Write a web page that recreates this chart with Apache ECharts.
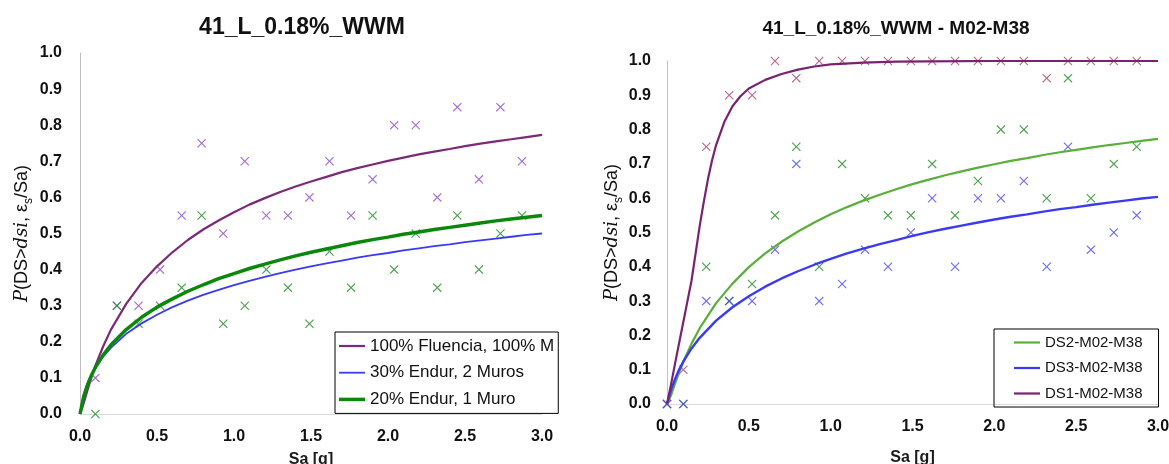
<!DOCTYPE html>
<html>
<head>
<meta charset="utf-8">
<script src="https://cdn.jsdelivr.net/npm/echarts@6/dist/echarts.min.js"></script>
<style>
html,body{margin:0;padding:0;background:#fff;}
#chart{width:1169px;height:464px;}
</style>
</head>
<body>
<div id="chart"></div>
<script>
// ---------- DATA ----------
var xTicks = [0.0, 0.5, 1.0, 1.5, 2.0, 2.5, 3.0];
var yTicks = [0.0, 0.1, 0.2, 0.3, 0.4, 0.5, 0.6, 0.7, 0.8, 0.9, 1.0];

// Observed Sa values (left chart)
var saLeft = [0.10, 0.24, 0.38, 0.52, 0.66, 0.79, 0.93, 1.07, 1.21, 1.35, 1.49, 1.62, 1.76, 1.90, 2.04, 2.18, 2.32, 2.45, 2.59, 2.73, 2.87];
var ptsFluencia = [0.10, 0.30, 0.30, 0.40, 0.55, 0.75, 0.50, 0.70, 0.55, 0.55, 0.60, 0.70, 0.55, 0.65, 0.80, 0.80, 0.60, 0.85, 0.65, 0.85, 0.70];
var ptsEndur1 = [0.00, 0.30, 0.25, 0.30, 0.35, 0.55, 0.25, 0.30, 0.40, 0.35, 0.25, 0.45, 0.35, 0.55, 0.40, 0.50, 0.35, 0.55, 0.40, 0.50, 0.55];

// Fitted curves, values read at these Sa
var curveSa = [0, 0.025, 0.05, 0.075, 0.1, 0.15, 0.2,
  0.3, 0.4, 0.5, 0.6, 0.7, 0.8, 0.9, 1.0, 1.1, 1.2,
  1.3, 1.4, 1.5, 1.6, 1.7, 1.8, 1.9, 2.0, 2.1, 2.2,
  2.3, 2.4, 2.5, 2.6, 2.7, 2.8, 2.9, 3.0];
var curveFluencia = [0, 0.031, 0.068, 0.103, 0.134, 0.187, 0.233,
  0.305, 0.363, 0.409, 0.448, 0.482, 0.511, 0.536, 0.559, 0.580, 0.598,
  0.615, 0.630, 0.644, 0.657, 0.670, 0.681, 0.691, 0.701, 0.710, 0.719,
  0.727, 0.734, 0.742, 0.749, 0.755, 0.761, 0.767, 0.773];
var curveEndur2 = [0, 0.055, 0.086, 0.110, 0.129, 0.159, 0.183,
  0.222, 0.251, 0.275, 0.296, 0.314, 0.330, 0.344, 0.357, 0.369, 0.380,
  0.390, 0.400, 0.409, 0.417, 0.425, 0.433, 0.440, 0.446, 0.453, 0.459,
  0.465, 0.470, 0.476, 0.481, 0.486, 0.491, 0.496, 0.500];
var curveEndur1 = [0, 0.050, 0.082, 0.108, 0.129, 0.163, 0.191,
  0.234, 0.268, 0.296, 0.319, 0.340, 0.358, 0.375, 0.389, 0.403, 0.415,
  0.427, 0.438, 0.448, 0.457, 0.466, 0.475, 0.483, 0.490, 0.498, 0.504,
  0.511, 0.517, 0.523, 0.529, 0.535, 0.540, 0.545, 0.550];

// Observed Sa values (right chart)
var saRight = [0.00, 0.10, 0.24, 0.38, 0.52, 0.66, 0.79, 0.93, 1.07, 1.21, 1.35, 1.49, 1.62, 1.76, 1.90, 2.04, 2.18, 2.32, 2.45, 2.59, 2.73, 2.87];
var ptsDS2 = [0, 0, 0.40, 0.30, 0.35, 0.55, 0.75, 0.40, 0.70, 0.60, 0.55, 0.55, 0.70, 0.55, 0.65, 0.80, 0.80, 0.60, 0.95, 0.60, 0.70, 0.75];
var ptsDS3 = [0, 0, 0.30, 0.30, 0.30, 0.45, 0.70, 0.30, 0.35, 0.45, 0.40, 0.50, 0.60, 0.40, 0.60, 0.60, 0.65, 0.40, 0.75, 0.45, 0.50, 0.55];
var ptsDS1 = [0, 0.10, 0.75, 0.90, 0.90, 1.00, 0.95, 1.00, 1.00, 1.00, 1.00, 1.00, 1.00, 1.00, 1.00, 1.00, 1.00, 0.95, 1.00, 1.00, 1.00, 1.00];

// Fitted curves (right chart)
var curveDS2 = [0, 0.026, 0.061, 0.093, 0.123, 0.176, 0.221,
  0.294, 0.351, 0.399, 0.439, 0.473, 0.503, 0.529, 0.553, 0.574, 0.593,
  0.610, 0.626, 0.641, 0.654, 0.667, 0.678, 0.689, 0.699, 0.709, 0.717,
  0.726, 0.734, 0.741, 0.748, 0.755, 0.761, 0.767, 0.773];
var curveDS3 = [0, 0.042, 0.074, 0.101, 0.124, 0.162, 0.193,
  0.243, 0.282, 0.314, 0.342, 0.366, 0.387, 0.406, 0.423, 0.439, 0.453,
  0.466, 0.478, 0.490, 0.501, 0.511, 0.520, 0.529, 0.538, 0.546, 0.553,
  0.561, 0.568, 0.574, 0.581, 0.587, 0.593, 0.599, 0.604];
var curveDS1Sa = [0, 0.025, 0.05, 0.075, 0.1, 0.125, 0.15, 0.175, 0.2, 0.225, 0.25, 0.275, 0.3,
  0.35, 0.4, 0.45, 0.5, 0.6, 0.7, 0.8, 0.9, 1.0, 1.2, 1.4, 1.6, 2.0, 2.5, 3.0];
var curveDS1 = [0, 0.058, 0.12, 0.18, 0.24, 0.30, 0.36, 0.44, 0.52, 0.59, 0.655, 0.71, 0.755,
  0.822, 0.868, 0.898, 0.92, 0.945, 0.962, 0.975, 0.984, 0.99, 0.995, 0.998, 0.999, 1.0, 1.0, 1.0];

var titles = ['41_L_0.18%_WWM', '41_L_0.18%_WWM - M02-M38'];
var namesLeft = ['100% Fluencia, 100% M', '30% Endur, 2 Muros', '20% Endur, 1 Muro'];
var namesRight = ['DS2-M02-M38', 'DS3-M02-M38', 'DS1-M02-M38'];

// ---------- HELPERS ----------
function zip(xs, ys) { return xs.map(function (x, i) { return [x, ys[i]]; }); }
var CROSS = 'path://M0.9,0 L5,4.1 L9.1,0 L10,0.9 L5.9,5 L10,9.1 L9.1,10 L5,5.9 L0.9,10 L0,9.1 L4.1,5 L0,0.9 Z';
var FONT = 'Liberation Sans, Arial, sans-serif';

function xAxisCfg(gi, gap) {
  return {
    type: 'value', gridIndex: gi, min: xTicks[0], max: xTicks[xTicks.length - 1], interval: 0.5,
    name: 'Sa [g]', nameLocation: 'middle', nameGap: gap,
    nameTextStyle: { fontFamily: FONT, fontWeight: 'bold', fontSize: 16, color: '#1a1a1a' },
    axisLine: { show: true, lineStyle: { color: '#d9d9d9', width: 1 } },
    axisTick: { show: false }, splitLine: { show: false },
    axisLabel: { fontFamily: FONT, fontWeight: 'bold', fontSize: 16, color: '#111', margin: 15,
      formatter: function (v) { return v.toFixed(1); } }
  };
}
var yNameRich = {
  i: { fontFamily: 'DejaVu Serif, Liberation Serif, serif', fontStyle: 'italic', fontSize: 18, color: '#111' },
  n: { fontFamily: FONT, fontSize: 18, color: '#111' },
  s: { fontFamily: FONT, fontSize: 12, color: '#111', verticalAlign: 'bottom', padding: [0, 0, -4, 0] }
};
function yAxisCfg(gi, gap, margin) {
  return {
    type: 'value', gridIndex: gi, min: yTicks[0], max: yTicks[yTicks.length - 1], interval: 0.1,
    name: '{i|P}{n|(DS>}{i|dsi}{n|, ε}{s|s}{n|/Sa)}', nameLocation: 'middle', nameGap: gap, nameRotate: 90,
    nameTextStyle: { rich: yNameRich },
    axisLine: { show: true, lineStyle: { color: '#bfbfbf', width: 1 } },
    axisTick: { show: false }, splitLine: { show: false },
    axisLabel: { fontFamily: FONT, fontWeight: 'bold', fontSize: 16, color: '#111', margin: margin,
      formatter: function (v) { return v.toFixed(1); } }
  };
}
function lineIcon(h) { return 'path://M0,0H100V' + h + 'H0Z'; }

var C = {
  purpleLine: '#7b2a78', purplePt: '#8c48c8',
  blue: '#3a3af5', bluePt: '#4848f8',
  green: '#0b870b', greenPt: '#1f8a1f',
  greenLight: '#5aae3a', ds1Pt: '#a8456f', ds1Line: '#7a2272'
};

var option = {
  backgroundColor: '#fff',
  animation: false,
  title: [
    { text: titles[0], left: 297, top: 11, textAlign: 'center',
      textStyle: { fontFamily: FONT, fontWeight: 'bold', fontSize: 23, color: '#111' } },
    { text: titles[1], left: 891, top: 14, textAlign: 'center',
      textStyle: { fontFamily: FONT, fontWeight: 'bold', fontSize: 19, color: '#111' } }
  ],
  grid: [
    { left: 80, width: 462, top: 53, height: 361, containLabel: false, outerBoundsMode: 'none' },
    { left: 667, width: 491, top: 61, height: 343, containLabel: false, outerBoundsMode: 'none' }
  ],
  xAxis: [xAxisCfg(0, 38), xAxisCfg(1, 46)],
  yAxis: [yAxisCfg(0, 49, 18), yAxisCfg(1, 44, 16)],
  legend: [
    {
      left: 335, top: 332, orient: 'vertical', itemWidth: 26, itemHeight: 16, itemGap: 9.7,
      padding: [5.5, 4, 5.5, 4], borderColor: '#000', borderWidth: 1, symbolKeepAspect: true,
      textStyle: { fontFamily: FONT, fontSize: 17, color: '#111' },
      data: [
        { name: namesLeft[0], icon: lineIcon(2.2 * 100 / 26) },
        { name: namesLeft[1], icon: lineIcon(1.8 * 100 / 26) },
        { name: namesLeft[2], icon: lineIcon(3.5 * 100 / 26) }
      ]
    },
    {
      left: 994, top: 329, orient: 'vertical', itemWidth: 26, itemHeight: 15, itemGap: 10.5,
      padding: [6, 16, 6, 20], borderColor: '#000', borderWidth: 1, symbolKeepAspect: true,
      textStyle: { fontFamily: FONT, fontSize: 15, color: '#111' },
      data: [
        { name: namesRight[0], icon: lineIcon(2.2 * 100 / 26) },
        { name: namesRight[1], icon: lineIcon(2.2 * 100 / 26) },
        { name: namesRight[2], icon: lineIcon(2.2 * 100 / 26) }
      ]
    }
  ],
  series: [
    // left chart
    { type: 'scatter', name: 'pF', xAxisIndex: 0, yAxisIndex: 0, symbol: CROSS, symbolSize: 9,
      itemStyle: { color: C.purplePt }, data: zip(saLeft, ptsFluencia), z: 3 },
    { type: 'scatter', name: 'pE1', xAxisIndex: 0, yAxisIndex: 0, symbol: CROSS, symbolSize: 9,
      itemStyle: { color: C.greenPt }, data: zip(saLeft, ptsEndur1), z: 3 },
    { type: 'line', name: namesLeft[0], xAxisIndex: 0, yAxisIndex: 0, symbol: 'none', smooth: false,
      color: C.purpleLine, lineStyle: { color: C.purpleLine, width: 2.2 }, data: zip(curveSa, curveFluencia), z: 4 },
    { type: 'line', name: namesLeft[1], xAxisIndex: 0, yAxisIndex: 0, symbol: 'none', smooth: false,
      color: C.blue, lineStyle: { color: C.blue, width: 1.8 }, data: zip(curveSa, curveEndur2), z: 4 },
    { type: 'line', name: namesLeft[2], xAxisIndex: 0, yAxisIndex: 0, symbol: 'none', smooth: false,
      color: C.green, lineStyle: { color: C.green, width: 3.5 }, data: zip(curveSa, curveEndur1), z: 4 },
    // right chart
    { type: 'scatter', name: 'p1', xAxisIndex: 1, yAxisIndex: 1, symbol: CROSS, symbolSize: 9,
      itemStyle: { color: C.ds1Pt }, data: zip(saRight, ptsDS1), z: 3 },
    { type: 'scatter', name: 'p2', xAxisIndex: 1, yAxisIndex: 1, symbol: CROSS, symbolSize: 9,
      itemStyle: { color: C.greenPt }, data: zip(saRight, ptsDS2), z: 3 },
    { type: 'scatter', name: 'p3', xAxisIndex: 1, yAxisIndex: 1, symbol: CROSS, symbolSize: 9,
      itemStyle: { color: C.bluePt }, data: zip(saRight, ptsDS3), z: 3 },
    { type: 'line', name: namesRight[0], xAxisIndex: 1, yAxisIndex: 1, symbol: 'none', smooth: false,
      color: C.greenLight, lineStyle: { color: C.greenLight, width: 2.2 }, data: zip(curveSa, curveDS2), z: 4 },
    { type: 'line', name: namesRight[1], xAxisIndex: 1, yAxisIndex: 1, symbol: 'none', smooth: false,
      color: C.blue, lineStyle: { color: C.blue, width: 2.4 }, data: zip(curveSa, curveDS3), z: 4 },
    { type: 'line', name: namesRight[2], xAxisIndex: 1, yAxisIndex: 1, symbol: 'none', smooth: false,
      color: C.ds1Line, lineStyle: { color: C.ds1Line, width: 2.2 }, data: zip(curveDS1Sa, curveDS1), z: 4 }
  ]
};

var chart = echarts.init(document.getElementById('chart'), null, { renderer: 'canvas' });
chart.setOption(option);
</script>
</body>
</html>
